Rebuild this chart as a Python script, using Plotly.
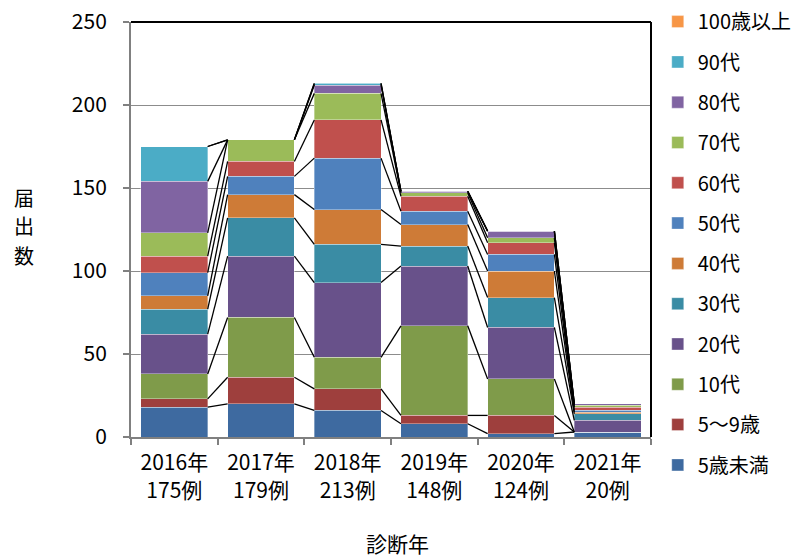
import plotly.graph_objects as go

years = ["2016年", "2017年", "2018年", "2019年", "2020年", "2021年"]
cases = ["175例", "179例", "213例", "148例", "124例", "20例"]
tick_labels = [f"{y}<br>{c}" for y, c in zip(years, cases)]

series_names = ["5歳未満", "5～9歳", "10代", "20代", "30代", "40代",
                "50代", "60代", "70代", "80代", "90代", "100歳以上"]

under5 = [18, 20, 16, 8, 2, 3]
age5_9 = [5, 16, 13, 5, 11, 0]
teens = [15, 36, 19, 54, 22, 0]
twenties = [24, 37, 45, 36, 31, 7]
thirties = [15, 23, 23, 12, 18, 4]
forties = [8, 14, 21, 13, 16, 1]
fifties = [14, 11, 31, 8, 10, 1]
sixties = [10, 9, 23, 9, 7, 2]
seventies = [14, 13, 16, 2, 3, 1]
eighties = [31, 0, 5, 1, 4, 1]
nineties = [21, 0, 1, 0, 0, 0]
over100 = [0, 0, 0, 0, 0, 0]

series_values = [under5, age5_9, teens, twenties, thirties, forties,
                 fifties, sixties, seventies, eighties, nineties, over100]

colors = ["#3E6AA0", "#9E3F3D", "#7F9B4A", "#68518A", "#3A8CA4", "#CE7B37",
          "#4F81BD", "#C0504D", "#9BBB59", "#8064A2", "#4BACC6", "#F79646"]

y_title_chars = ["届", "出", "数"]
x_title = "診断年"

FONT = "Noto Sans CJK JP"
bar_w = 0.77
xs = list(range(len(years)))

fig = go.Figure()

n = len(series_names)
for k, (name, vals, col) in enumerate(zip(series_names, series_values, colors)):
    fig.add_trace(go.Bar(
        x=xs, y=vals, name=name, width=bar_w,
        marker=dict(color=col, line=dict(color="rgba(255,255,255,0.35)", width=1)),
        legendgroup=name, legendrank=n - k,
    ))

# Excel-style series lines connecting top of each series
lx, ly = [], []
cum = [0] * len(years)
for vals in series_values:
    cum = [c + v for c, v in zip(cum, vals)]
    for i in range(len(years) - 1):
        lx += [xs[i] + bar_w / 2, xs[i + 1] - bar_w / 2, None]
        ly += [cum[i], cum[i + 1], None]
fig.add_trace(go.Scatter(x=lx, y=ly, mode="lines", line=dict(color="black", width=1.3),
                         showlegend=False, hoverinfo="skip"))

annotations = []
for j, ch in enumerate(y_title_chars):
    annotations.append(dict(text=ch, xref="paper", yref="paper",
                            x=(24 - 131) / 520, y=(437 - (197 + 29 * j)) / 415,
                            xanchor="center", yanchor="middle", showarrow=False,
                            font=dict(family=FONT, size=20)))
annotations.append(dict(text=x_title, xref="paper", yref="paper",
                        x=(397 - 131) / 520, y=(437 - 543) / 415,
                        xanchor="center", yanchor="middle", showarrow=False,
                        font=dict(family=FONT, size=21)))

# page body has an 8px margin, so the figure is drawn 8px right/down
fig.update_layout(
    width=792, height=550,
    barmode="stack",
    plot_bgcolor="white", paper_bgcolor="white",
    margin=dict(l=123, r=149, t=14, b=121, autoexpand=False),
    font=dict(family=FONT, size=21, color="black"),
    showlegend=True,
    legend=dict(traceorder="grouped", tracegroupgap=11.3, maxheight=550,
                font=dict(family=FONT, size=20, color="black"),
                x=1.013, xanchor="left", y=1.048, yanchor="top",
                bgcolor="rgba(0,0,0,0)"),
    xaxis=dict(range=[-0.5, 5.5], tickmode="array", tickvals=xs, ticktext=tick_labels,
               ticks="", showgrid=False, zeroline=False,
               showline=True, linecolor="#808080", linewidth=2,
               tickfont=dict(family=FONT, size=21), ticklabeloverflow="allow",
               minor=dict(tickmode="linear", tick0=-0.5, dtick=1, ticks="outside",
                          ticklen=6, tickcolor="#808080", tickwidth=1.5, showgrid=False),
               ticklabelstandoff=6),
    yaxis=dict(range=[0, 250], dtick=50, ticks="outside", ticklen=6, tickcolor="#808080",
               tickwidth=1.5, showgrid=True, gridcolor="#8c8c8c", gridwidth=1.3,
               zeroline=False, showline=True, linecolor="#808080", linewidth=2,
               tickfont=dict(family=FONT, size=21), ticklabelstandoff=12,
               ticklabeloverflow="allow"),
    shapes=[
        dict(type="line", xref="paper", yref="paper", x0=0, x1=1, y0=1, y1=1,
             line=dict(color="black", width=2)),
        dict(type="line", xref="paper", yref="paper", x0=1, x1=1, y0=0, y1=1,
             line=dict(color="black", width=2)),
    ],
    annotations=annotations,
)

fig.write_html("out.html")
